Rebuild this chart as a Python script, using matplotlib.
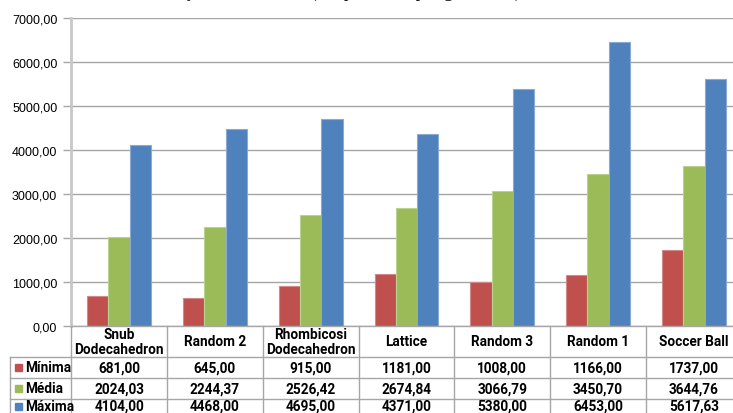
import matplotlib
matplotlib.use("Agg")
import matplotlib.pyplot as plt
from matplotlib.transforms import blended_transform_factory
from matplotlib.lines import Line2D
from matplotlib.patches import Rectangle
import numpy as np

# ---- data ----
categories = ["Snub\nDodecahedron", "Random 2", "Rhombicosi\nDodecahedron",
              "Lattice", "Random 3", "Random 1", "Soccer Ball"]
series_names = ["Mínima", "Média", "Máxima"]
minima = [681.00, 645.00, 915.00, 1181.00, 1008.00, 1166.00, 1737.00]
media = [2024.03, 2244.37, 2526.42, 2674.84, 3066.79, 3450.70, 3644.76]
maxima = [4104.00, 4468.00, 4695.00, 4371.00, 5380.00, 6453.00, 5617.63]
yticks = [0, 1000, 2000, 3000, 4000, 5000, 6000, 7000]
title = "Avaliação dos Modelos (tempo médio por geodésica)"

colors = ["#C0504D", "#9BBB59", "#4F81BD"]
edge_colors = ["#D28A88", "#BCD38F", "#8AAAD4"]

W, H = 733, 414
fig = plt.figure(figsize=(W / 100, H / 100), dpi=100)


def fx(px):
    return px / W


def fy(py):
    return 1 - py / H


label_font = ["Roboto", "DejaVu Sans"]
tick_font = ["Liberation Sans", "DejaVu Sans"]

ax_left, ax_right, ax_top, ax_bottom = 71.2, 741.8, 19, 327
ax = fig.add_axes([fx(ax_left), fy(ax_bottom), fx(ax_right - ax_left),
                   (ax_bottom - ax_top) / H])

x = np.arange(len(categories))
bw = 0.222
for i, vals in enumerate([minima, media, maxima]):
    ax.bar(x + (i - 1) * bw, vals, width=bw, color=colors[i],
           edgecolor=edge_colors[i], linewidth=0.8, zorder=3)

ax.set_xlim(-0.5, len(categories) - 0.5)
ax.set_ylim(0, 7000)
ax.set_yticks(yticks)
ax.set_yticklabels([f"{v:.2f}".replace(".", ",") for v in yticks],
                   family=tick_font, fontsize=9)
ax.tick_params(axis="y", length=6, width=1, color="#A6A6A6", pad=4)
ax.set_xticks([])
ax.grid(axis="y", color="#A6A6A6", linewidth=1, zorder=0)
for s in ["top", "right", "bottom"]:
    ax.spines[s].set_visible(False)
ax.spines["left"].set_color("#C8C8C8")
ax.spines["left"].set_linewidth(2)

# ---- data table under the axis ----
tr = blended_transform_factory(ax.transData, fig.transFigure)
line_kw = dict(color="#A6A6A6", linewidth=1, transform=tr, clip_on=False)

row_edges = [327, 358, 379, 399.5, 420]
row_centers = [342.5, 368.5, 389.2, 407]
leg_left_px = 10
leg_left = (leg_left_px - ax_left) / (ax_right - ax_left) * len(categories) - 0.5

# horizontal lines
fig.add_artist(Line2D([-0.5, len(categories) - 0.5], [fy(327), fy(327)], **line_kw))
for py in row_edges[1:4]:
    fig.add_artist(Line2D([leg_left, len(categories) - 0.5], [fy(py), fy(py)], **line_kw))
# vertical lines
for b in np.arange(len(categories) + 1) - 0.5:
    fig.add_artist(Line2D([b, b], [fy(327), fy(420)], **line_kw))
fig.add_artist(Line2D([leg_left, leg_left], [fy(358), fy(420)], **line_kw))

fs = 9.8
# header row
for i, c in enumerate(categories):
    fig.text(i, fy(row_centers[0]), c, transform=tr, ha="center", va="center",
             family=label_font, fontweight="bold", fontsize=fs,
             linespacing=1.15)

# series rows
for r, (name, vals) in enumerate(zip(series_names, [minima, media, maxima])):
    yc = fy(row_centers[r + 1])
    fig.add_artist(Rectangle((fx(15), yc - 3.5 / H), 7 / W, 7 / H,
                             transform=fig.transFigure, color=colors[r]))
    fig.text(fx(25), yc, name, ha="left", va="center", family=label_font,
             fontweight="bold", fontsize=fs)
    for i, v in enumerate(vals):
        fig.text(i, yc, f"{v:.2f}".replace(".", ","), transform=tr,
                 ha="center", va="center", family=label_font,
                 fontweight="bold", fontsize=fs)

# title sits mostly above the top edge
fig.text(fx(138), fy(-3), title, ha="left", va="baseline",
         family=["Liberation Serif", "DejaVu Serif"], fontsize=13)

fig.savefig("out.png", dpi=100)
